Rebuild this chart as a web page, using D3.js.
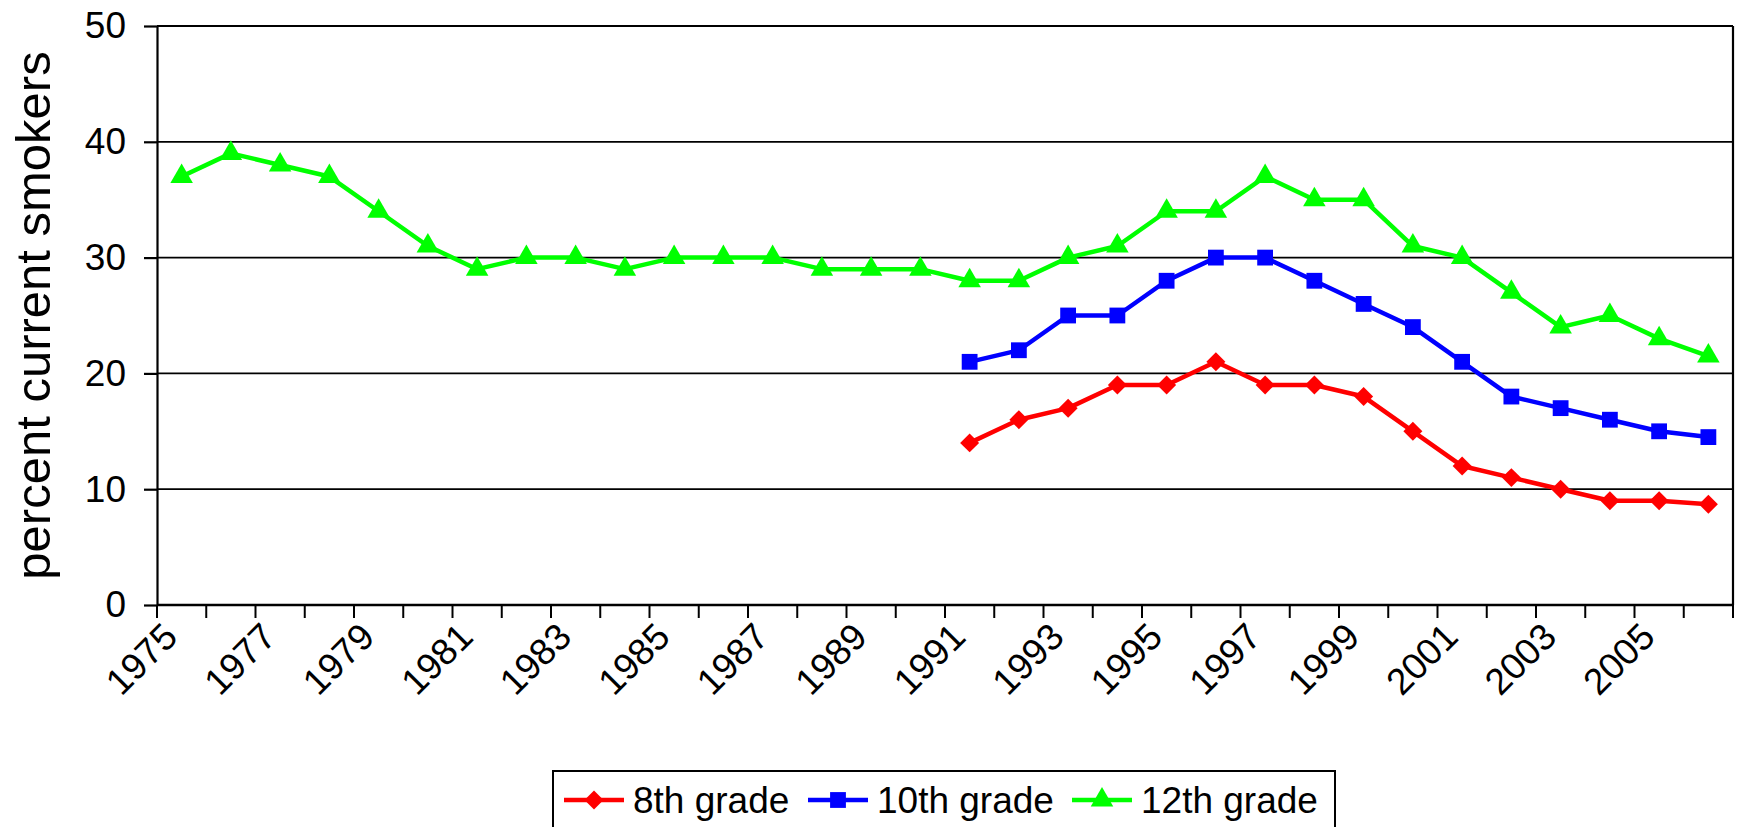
<!DOCTYPE html>
<html>
<head>
<meta charset="utf-8">
<script src="https://cdn.jsdelivr.net/npm/d3@7"></script>
<style>
  body { margin: 0; background: #fff; }
  text { font-family: "Liberation Sans", Arial, sans-serif; fill: #000; }
</style>
</head>
<body>
<script>
// categories and values
var years = [1975, 1976, 1977, 1978, 1979, 1980, 1981, 1982, 1983, 1984, 1985, 1986,
             1987, 1988, 1989, 1990, 1991, 1992, 1993, 1994, 1995, 1996, 1997, 1998,
             1999, 2000, 2001, 2002, 2003, 2004, 2005, 2006];

var grade8 = [null, null, null, null, null, null, null, null, null, null, null, null,
              null, null, null, null, 14, 16, 17, 19, 19, 21, 19, 19,
              18, 15, 12, 11, 10, 9, 9, 8.7];

var grade10 = [null, null, null, null, null, null, null, null, null, null, null, null,
               null, null, null, null, 21, 22, 25, 25, 28, 30, 30, 28,
               26, 24, 21, 18, 17, 16, 15, 14.5];

var grade12 = [37, 39, 38, 37, 34, 31, 29, 30, 30, 29, 30, 30,
               30, 29, 29, 29, 28, 28, 30, 31, 34, 34, 37, 35,
               35, 31, 30, 27, 24, 25, 23, 21.5];

var yTicks = [0, 10, 20, 30, 40, 50];
var seriesNames = ["8th grade", "10th grade", "12th grade"];

var width = 1737,
    height = 827,
    plot = {left: 157, right: 1733, top: 26, bottom: 605};

var series = [
    {name: seriesNames[0], values: grade8, color: "#ff0000", symbol: "diamond"},
    {name: seriesNames[1], values: grade10, color: "#0000ff", symbol: "square"},
    {name: seriesNames[2], values: grade12, color: "#00ff00", symbol: "triangle"}
];

var svg = d3.select("body")
    .append("svg")
    .attr("width", width)
    .attr("height", height);

var xScale = d3.scaleBand()
    .domain(years)
    .range([plot.left, plot.right]);

var yScale = d3.scaleLinear()
    .domain([0, 50])
    .range([plot.bottom, plot.top]);

var bw = xScale.bandwidth();

// gridlines
svg.append("g")
    .selectAll("line")
    .data(yTicks.filter(function(d) { return d > 0; }))
    .enter()
    .append("line")
    .attr("x1", plot.left)
    .attr("x2", plot.right)
    .attr("y1", function(d) { return yScale(d); })
    .attr("y2", function(d) { return yScale(d); })
    .attr("stroke", "#000")
    .attr("stroke-width", 1.8);

// right border of the plot area
svg.append("line")
    .attr("x1", plot.right)
    .attr("x2", plot.right)
    .attr("y1", plot.top)
    .attr("y2", plot.bottom)
    .attr("stroke", "#000")
    .attr("stroke-width", 2.2);

// y axis
var yaxis = d3.axisLeft(yScale)
    .tickValues(yTicks)
    .tickSizeInner(13)
    .tickSizeOuter(0)
    .tickPadding(18);

svg.append("g")
    .attr("class", "y axis")
    .attr("transform", "translate(" + plot.left + ",0)")
    .call(yaxis)
    .call(function(g) {
        g.selectAll("line, path").attr("stroke", "#000").attr("stroke-width", 2.2);
        g.selectAll("text")
            .style("font-size", "37px")
            .attr("font-family", null);
    });

// x axis: ticks at category boundaries, labels every other year
var xaxis = d3.axisBottom(xScale)
    .tickSizeInner(13)
    .tickSizeOuter(0)
    .tickFormat(function(d) { return d % 2 ? d : ""; });

var gx = svg.append("g")
    .attr("class", "x axis")
    .attr("transform", "translate(0," + plot.bottom + ")")
    .call(xaxis);

gx.select(".domain")
    .attr("d", "M" + plot.left + ",0H" + plot.right)
    .attr("stroke", "#000")
    .attr("stroke-width", 2.5);

gx.selectAll(".tick line")
    .attr("x1", -bw / 2)
    .attr("x2", -bw / 2)
    .attr("stroke", "#000")
    .attr("stroke-width", 2);

gx.append("line")
    .attr("x1", plot.right)
    .attr("x2", plot.right)
    .attr("y1", 0)
    .attr("y2", 13)
    .attr("stroke", "#000")
    .attr("stroke-width", 2);

gx.selectAll(".tick text")
    .attr("font-family", null)
    .style("font-size", "37px")
    .attr("text-anchor", "end")
    .attr("dy", null)
    .attr("dominant-baseline", "central")
    .attr("y", 0)
    .attr("transform", "translate(-11,25) rotate(-45)");

// y axis title
svg.append("text")
    .attr("transform", "translate(50," + ((plot.top + plot.bottom) / 2) + ") rotate(-90)")
    .attr("text-anchor", "middle")
    .style("font-size", "49px")
    .text("percent current smokers");

// lines and markers
function symbolFor(name) {
    if (name == "diamond") return d3.symbol().type(d3.symbolSquare).size(180)();
    if (name == "square") return d3.symbol().type(d3.symbolSquare).size(250)();
    return d3.symbol().type(d3.symbolTriangle).size(220)();
}

var line = d3.line()
    .defined(function(d) { return d.value != null; })
    .x(function(d) { return xScale(d.year) + bw / 2; })
    .y(function(d) { return yScale(d.value); });

series.forEach(function(s) {
    var pts = years.map(function(y, i) { return {year: y, value: s.values[i]}; });

    svg.append("path")
        .datum(pts)
        .attr("fill", "none")
        .attr("stroke", s.color)
        .attr("stroke-width", 4.5)
        .attr("stroke-linejoin", "round")
        .attr("d", line);

    svg.append("g")
        .selectAll("path")
        .data(pts.filter(function(d) { return d.value != null; }))
        .enter()
        .append("path")
        .attr("d", symbolFor(s.symbol))
        .attr("fill", s.color)
        .attr("transform", function(d) {
            var t = "translate(" + (xScale(d.year) + bw / 2) + "," + yScale(d.value) + ")";
            if (s.symbol == "diamond") t += " rotate(45)";
            return t;
        });
});

// legend
var legend = svg.append("g").attr("class", "legend");

legend.append("rect")
    .attr("x", 553)
    .attr("y", 771)
    .attr("width", 782)
    .attr("height", 70)
    .attr("fill", "#fff")
    .attr("stroke", "#000")
    .attr("stroke-width", 2);

var legendX = [564, 808, 1072];

series.forEach(function(s, i) {
    var x0 = legendX[i], ly = 800;
    legend.append("line")
        .attr("x1", x0)
        .attr("x2", x0 + 60)
        .attr("y1", ly)
        .attr("y2", ly)
        .attr("stroke", s.color)
        .attr("stroke-width", 4.5);
    legend.append("path")
        .attr("d", symbolFor(s.symbol))
        .attr("fill", s.color)
        .attr("transform", "translate(" + (x0 + 30) + "," + ly + ")" + (s.symbol == "diamond" ? " rotate(45)" : ""));
    legend.append("text")
        .attr("x", x0 + 69)
        .attr("y", ly)
        .attr("dominant-baseline", "central")
        .style("font-size", "37px")
        .text(s.name);
});
</script>
</body>
</html>
